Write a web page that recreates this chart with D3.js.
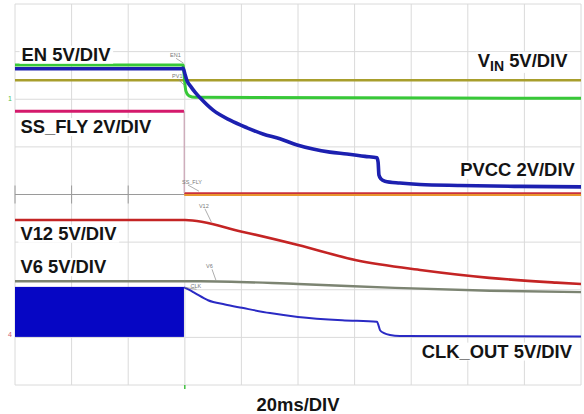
<!DOCTYPE html>
<html>
<head>
<meta charset="utf-8">
<script src="https://cdn.jsdelivr.net/npm/d3@7"></script>
<style>
html,body{margin:0;padding:0;background:#fff;}
svg{display:block;}
text{font-family:"Liberation Sans",Arial,sans-serif;}
</style>
</head>
<body>
<svg id="chart" width="584" height="414"></svg>
<script>
// time in ms (20 ms/div, 10 divisions), vertical position in divisions (8 divisions, centre = 0)
const timeTicks = [0,20,40,60,80,100,120,140,160,180,200];
const divTicks = [-4,-3,-2,-1,0,1,2,3,4];
const triggerTime = 60;

const vinData = [[0,2.40],[200,2.40]];
const enData = [[0,2.72],[59.4,2.72],[59.9,2.40],[60.4,2.17],[61.5,2.07],[63.6,2.04],[200,2.02]];
const pvccData = [[0,2.64],[58.7,2.64],[59.4,2.65],[60.1,2.52],[60.7,2.40],[62.2,2.26],[63.6,2.15],[65.4,2.03],[70.0,1.77],[76.0,1.56],[82.0,1.40],[87.6,1.27],[93.6,1.17],[99.7,1.04],[105.3,0.955],[111.3,0.89],[117.3,0.85],[123.7,0.80],[127.9,0.77],[128.3,0.68],[128.6,0.41],[129.3,0.33],[130.7,0.28],[136.0,0.24],[143.1,0.21],[157.2,0.19],[178.4,0.17],[200,0.16]];
const ssFlyHigh = [[0,1.75],[59.7,1.75]];
const ssFlyDrop = [[59.8,1.75],[59.8,0.03]];
const ssFlyLow = [[59.8,0.03],[200,0.03]];
const zeroRef = [[59.8,-0.01],[200,-0.01]];
const v12Data = [[0,-0.535],[60.1,-0.535],[80.2,-0.78],[100,-1.06],[120.6,-1.38],[143.9,-1.59],[167.6,-1.75],[191.3,-1.85],[200,-1.88]];
const v6Data = [[0,-1.82],[65.4,-1.82],[100,-1.88],[134.3,-1.96],[167.8,-2.02],[200,-2.05]];
const clkBlock = {start:0, end:59.7, high:-1.94, low:-2.99};
const clkData = [[59.7,-1.95],[61.8,-2.01],[63.6,-2.07],[68.2,-2.22],[74.2,-2.31],[80.2,-2.38],[90.1,-2.49],[100,-2.57],[115.6,-2.64],[127.9,-2.67],[128.3,-2.72],[129.0,-2.85],[130.4,-2.91],[132.5,-2.95],[136,-2.97],[200,-2.98]];

const labels = [
  {text:"EN 5V/DIV", t:2.3, d:2.81, anchor:"start"},
  {text:"SS_FLY 2V/DIV", t:1.9, d:1.29, anchor:"start"},
  {text:"PVCC 2V/DIV", t:197.8, d:0.39, anchor:"end"},
  {text:"V12 5V/DIV", t:1.9, d:-0.95, anchor:"start"},
  {text:"V6 5V/DIV", t:1.9, d:-1.65, anchor:"start"},
  {text:"CLK_OUT 5V/DIV", t:196.8, d:-3.425, anchor:"end"}
];
const vinLabel = {main:"V", sub:"IN", rest:" 5V/DIV", t:195.2, d:2.68};
const timeLabel = "20ms/DIV";

const tiny = [
  {text:"EN1", t:54.8, d:2.88, lt:[59.5,2.76]},
  {text:"PV1", t:55.5, d:2.44, lt:[59.9,2.29]},
  {text:"SS_FLY", t:59.0, d:0.22, lt:[65.0,0.07]},
  {text:"V12", t:65.0, d:-0.28, lt:[69.4,-0.58]},
  {text:"V6", t:67.5, d:-1.55, lt:[71.0,-1.80]},
  {text:"CLK", t:62.0, d:-1.97, lt:[60.0,-1.95]}
];

const svg = d3.select("#chart");
const x = d3.scaleLinear().domain([0,200]).range([15,581]);
const y = d3.scaleLinear().domain([-4,4]).range([385,4]);

// grid
const g = svg.append("g");
g.selectAll(".vg").data(timeTicks).enter().append("line")
  .attr("x1",d=>x(d)).attr("x2",d=>x(d)).attr("y1",y(4)).attr("y2",y(-4))
  .attr("stroke","#dadada").attr("stroke-width",1);
g.selectAll(".hg").data(divTicks).enter().append("line")
  .attr("x1",x(0)).attr("x2",x(200)).attr("y1",d=>y(d)).attr("y2",d=>y(d))
  .attr("stroke","#dadada").attr("stroke-width",1);
// centre axis with ticks
g.append("line").attr("x1",x(0)).attr("x2",x(200)).attr("y1",y(0)).attr("y2",y(0))
  .attr("stroke","#9a9a9a").attr("stroke-width",1);
g.selectAll(".ct").data(timeTicks.filter(t=>t<triggerTime)).enter().append("line")
  .attr("x1",d=>x(d)).attr("x2",d=>x(d)).attr("y1",y(0)-9).attr("y2",y(0)+9)
  .attr("stroke","#9a9a9a").attr("stroke-width",1);
// trigger marker
svg.append("line").attr("x1",x(triggerTime)).attr("x2",x(triggerTime))
  .attr("y1",y(-4)).attr("y2",y(-4)+4).attr("stroke","#40c040").attr("stroke-width",1.5);
svg.append("line").attr("x1",x(triggerTime)).attr("x2",x(triggerTime))
  .attr("y1",y(-1.95)).attr("y2",y(-4)).attr("stroke","#e6e6e6").attr("stroke-width",1);

const line = d3.line().x(d=>x(d[0])).y(d=>y(d[1])).curve(d3.curveMonotoneX);
const lineL = d3.line().x(d=>x(d[0])).y(d=>y(d[1]));
function trace(data,color,w,gen){
  svg.append("path").datum(data).attr("d",(gen||line)).attr("fill","none")
    .attr("stroke",color).attr("stroke-width",w).attr("stroke-linejoin","round");
}

// CLK block
svg.append("rect").attr("x",x(clkBlock.start)).attr("y",y(clkBlock.high))
  .attr("width",x(clkBlock.end)-x(clkBlock.start)).attr("height",y(clkBlock.low)-y(clkBlock.high))
  .attr("fill","#0606c4");

trace(zeroRef,"#e8962e",1.8,lineL);
trace(ssFlyLow,"#c8303c",1.8,lineL);
trace(ssFlyDrop,"#c9a3b4",1.2,lineL);
trace(ssFlyHigh,"#d41a6c",3,lineL);
trace(vinData,"#a89e2c",2.6,lineL);
trace(v6Data,"#7c8472",2.4);
trace(v12Data,"#c42424",2.6);
trace(clkData,"#2a2ac4",2);
trace(enData,"#38c838",3);
trace(pvccData,"#1c20b0",3.6);

// tiny channel tags
tiny.forEach(a=>{
  svg.append("line").attr("x1",x(a.t)+6).attr("y1",y(a.d)+1).attr("x2",x(a.lt[0])).attr("y2",y(a.lt[1]))
    .attr("stroke","#8a8a8a").attr("stroke-width",0.7);
  svg.append("text").attr("x",x(a.t)).attr("y",y(a.d)).attr("font-size",5.5)
    .attr("fill","#777").text(a.text);
});
// left channel markers
svg.append("text").attr("x",8).attr("y",y(2.03)+3).attr("font-size",7).attr("fill","#50c050").text("1");
svg.append("text").attr("x",8).attr("y",y(-2.92)+3).attr("font-size",7).attr("fill","#d06070").text("4");

// labels with white backing
function addLabel(sel){
  const bb = sel.node().getBBox();
  svg.insert("rect", function(){return sel.node();})
    .attr("x",bb.x-2).attr("y",bb.y+2).attr("width",bb.width+4).attr("height",bb.height-3)
    .attr("fill","#fff");
}
labels.forEach(l=>{
  const t = svg.append("text").attr("x",x(l.t)).attr("y",y(l.d))
    .attr("text-anchor",l.anchor).attr("font-size",18.4).attr("font-weight","bold")
    .attr("fill","#141414").text(l.text);
  addLabel(t);
});
const vt = svg.append("text").attr("x",x(vinLabel.t)).attr("y",y(vinLabel.d))
  .attr("text-anchor","end").attr("font-size",18.4).attr("font-weight","bold").attr("fill","#141414");
vt.append("tspan").text(vinLabel.main);
vt.append("tspan").attr("font-size",14).attr("dy",4).text(vinLabel.sub);
vt.append("tspan").attr("dy",-4).text(vinLabel.rest);
addLabel(vt);

svg.append("text").attr("x",x(100)).attr("y",411).attr("text-anchor","middle")
  .attr("font-size",18.4).attr("font-weight","bold").attr("fill","#141414").text(timeLabel);
</script>
</body>
</html>
